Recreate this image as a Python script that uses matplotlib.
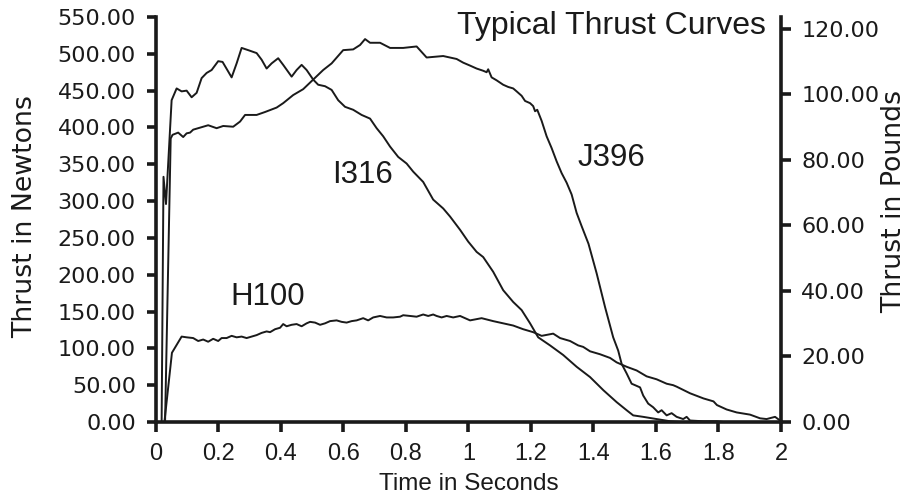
import matplotlib
matplotlib.use("Agg")
import matplotlib.pyplot as plt

# ---------------- data ----------------
i316_t = [0.0, 0.018, 0.024, 0.032, 0.050, 0.066, 0.082, 0.098, 0.114, 0.130,
          0.146, 0.162, 0.178, 0.199, 0.213, 0.231, 0.242, 0.258, 0.274, 0.295,
          0.322, 0.338, 0.354, 0.370, 0.391, 0.407, 0.434, 0.450, 0.466, 0.482,
          0.503, 0.519, 0.541, 0.562, 0.583, 0.605, 0.631, 0.658, 0.685, 0.706,
          0.727, 0.749, 0.775, 0.802, 0.823, 0.855, 0.887, 0.919, 0.941, 0.973,
          0.999, 1.026, 1.047, 1.079, 1.111, 1.143, 1.170, 1.197, 1.223, 1.261,
          1.303, 1.346, 1.389, 1.432, 1.474, 1.506, 1.527, 1.559, 1.602, 1.645,
          1.677]
i316_f = [0, 0, 333, 296, 437, 453, 449, 450, 441, 447,
          467, 474, 478, 490, 489, 476, 468, 487, 508, 505,
          501, 492, 480, 487, 494, 485, 469, 478, 485, 478,
          465, 458, 456, 451, 437, 428, 424, 417, 412, 399,
          388, 374, 360, 351, 340, 326, 302, 290, 279, 261,
          245, 231, 224, 204, 179, 163, 152, 134, 115, 104,
          91, 75, 61, 43, 27, 16, 9, 7, 4, 1,
          0]

j396_t = [0.0, 0.029, 0.047, 0.053, 0.071, 0.087, 0.098, 0.109, 0.119, 0.135,
          0.167, 0.194, 0.215, 0.247, 0.269, 0.285, 0.322, 0.349, 0.386, 0.407,
          0.439, 0.471, 0.503, 0.535, 0.562, 0.599, 0.631, 0.653, 0.669, 0.685,
          0.717, 0.749, 0.791, 0.834, 0.866, 0.919, 0.962, 0.983, 1.005, 1.026,
          1.047, 1.058, 1.063, 1.074, 1.090, 1.111, 1.127, 1.143, 1.154, 1.170,
          1.181, 1.197, 1.207, 1.213, 1.220, 1.234, 1.250, 1.266, 1.282, 1.298,
          1.314, 1.330, 1.346, 1.362, 1.384, 1.410, 1.437, 1.463, 1.479, 1.490,
          1.506, 1.522, 1.533, 1.549, 1.559, 1.575, 1.591, 1.607, 1.618, 1.634,
          1.650, 1.666, 1.687, 1.698, 1.709, 1.752, 1.795, 1.816]
j396_f = [0, 0, 385, 390, 393, 387, 392, 393, 397, 399,
          403, 399, 402, 401, 408, 417, 417, 421, 427, 433,
          444, 452, 465, 478, 487, 505, 506, 512, 520, 515,
          515, 508, 508, 510, 495, 497, 493, 488, 484, 480,
          477, 475, 479, 468, 464, 458, 455, 453, 449, 443,
          436, 433, 429, 422, 424, 409, 388, 372, 354, 338,
          325, 309, 284, 266, 242, 202, 156, 115, 97, 79,
          66, 52, 50, 47, 36, 25, 20, 13, 16, 9,
          12, 7, 4, 7, 2, 1, 1, 0]

h100_t = [0.0, 0.027, 0.051, 0.082, 0.098, 0.119, 0.135, 0.151, 0.167, 0.183,
          0.199, 0.210, 0.226, 0.242, 0.258, 0.274, 0.290, 0.306, 0.322, 0.338,
          0.354, 0.365, 0.381, 0.397, 0.407, 0.418, 0.434, 0.450, 0.466, 0.482,
          0.493, 0.509, 0.525, 0.541, 0.557, 0.578, 0.594, 0.610, 0.626, 0.642,
          0.663, 0.679, 0.695, 0.717, 0.738, 0.759, 0.781, 0.791, 0.813, 0.834,
          0.855, 0.871, 0.887, 0.898, 0.914, 0.930, 0.951, 0.973, 1.005, 1.042,
          1.079, 1.111, 1.143, 1.175, 1.207, 1.234, 1.271, 1.293, 1.325, 1.351,
          1.367, 1.389, 1.421, 1.453, 1.474, 1.506, 1.538, 1.570, 1.602, 1.634,
          1.655, 1.666, 1.709, 1.752, 1.784, 1.795, 1.826, 1.858, 1.901, 1.933,
          1.954, 1.981, 1.997, 2.0]
h100_f = [0, 0, 94, 116, 115, 114, 110, 112, 109, 113,
          110, 114, 114, 117, 115, 116, 114, 116, 118, 121,
          123, 122, 126, 128, 133, 130, 132, 133, 130, 134,
          136, 135, 132, 134, 137, 138, 136, 135, 137, 138,
          141, 138, 142, 144, 142, 142, 143, 145, 144, 143,
          146, 144, 146, 144, 142, 144, 142, 144, 138, 141,
          137, 134, 131, 126, 122, 117, 120, 114, 110, 104,
          102, 96, 92, 87, 81, 75, 70, 62, 58, 52,
          50, 48, 39, 32, 28, 23, 17, 13, 10, 5,
          4, 7, 2, 0]

x_ticks = [0, 0.2, 0.4, 0.6, 0.8, 1.0, 1.2, 1.4, 1.6, 1.8, 2.0]
x_tick_labels = ["0", "0.2", "0.4", "0.6", "0.8", "1", "1.2", "1.4", "1.6", "1.8", "2"]
n_ticks = [0, 50, 100, 150, 200, 250, 300, 350, 400, 450, 500, 550]
lb_ticks = [0, 20, 40, 60, 80, 100, 120]
N_PER_LBF = 4.448

curve_labels = ["I316", "J396", "H100"]
label_pos = [(0.662, 336), (1.456, 359), (0.358, 170)]
title = "Typical Thrust Curves"

# ---------------- figure ----------------
W, H = 920, 496
fig = plt.figure(figsize=(W / 100, H / 100), dpi=100)
L, R, B, T = 156, 781, 422, 17
ax = fig.add_axes([L / W, 1 - B / H, (R - L) / W, (B - T) / H])
ax.set_xlim(0, 2)
ax.set_ylim(0, 550)

col = "#1a1a1a"
for t, f in [(i316_t, i316_f), (j396_t, j396_f), (h100_t, h100_f)]:
    ax.plot(t, f, color=col, lw=1.4, clip_on=False)

ax.spines["top"].set_visible(False)
ax.spines["right"].set_visible(False)
for s in ["left", "bottom"]:
    ax.spines[s].set_linewidth(2.6)
    ax.spines[s].set_color(col)

ax.set_xticks(x_ticks)
ax.set_xticklabels(x_tick_labels, family="Liberation Sans", fontsize=17, color=col)
ax.set_yticks(n_ticks)
ax.set_yticklabels([f"{v:.2f}" for v in n_ticks], family="DejaVu Sans", fontsize=16, color=col)
ax.tick_params(axis="x", direction="out", length=7, width=2.6, pad=8, color=col)
ax.tick_params(axis="y", direction="out", length=6.5, width=2.6, pad=8, color=col)

ax.set_xlabel("Time in Seconds", family="Liberation Sans", fontsize=17.5, color=col, labelpad=6)
ax.set_ylabel("Thrust in Newtons", family="DejaVu Sans", fontsize=19.3, color=col)
ax.yaxis.label.set_verticalalignment("center")
ax.yaxis.set_label_coords(-0.2096, 0.507)

ax2 = ax.twinx()
ax2.set_ylim(0, 550 / N_PER_LBF)
for s in ["top", "left", "bottom"]:
    ax2.spines[s].set_visible(False)
ax2.spines["right"].set_linewidth(2.6)
ax2.spines["right"].set_color(col)
ax2.set_yticks(lb_ticks)
ax2.set_yticklabels([f"{v:.2f}" for v in lb_ticks], family="DejaVu Sans", fontsize=16, color=col)
ax2.tick_params(axis="y", direction="out", length=7.2, width=2.6, pad=7.5, color=col)
ax2.set_ylabel("Thrust in Pounds", family="DejaVu Sans", fontsize=19.3, color=col)
ax2.yaxis.label.set_verticalalignment("center")
ax2.yaxis.set_label_coords(1.181, 0.544)

for lab, (x, y) in zip(curve_labels, label_pos):
    ax.text(x, y, lab, family="Liberation Sans", fontsize=22.5, color=col,
            ha="center", va="center")
ax.text(1.459, 538, title, family="Liberation Sans", fontsize=23, color=col,
        ha="center", va="center")

fig.savefig("out.png", dpi=100)
